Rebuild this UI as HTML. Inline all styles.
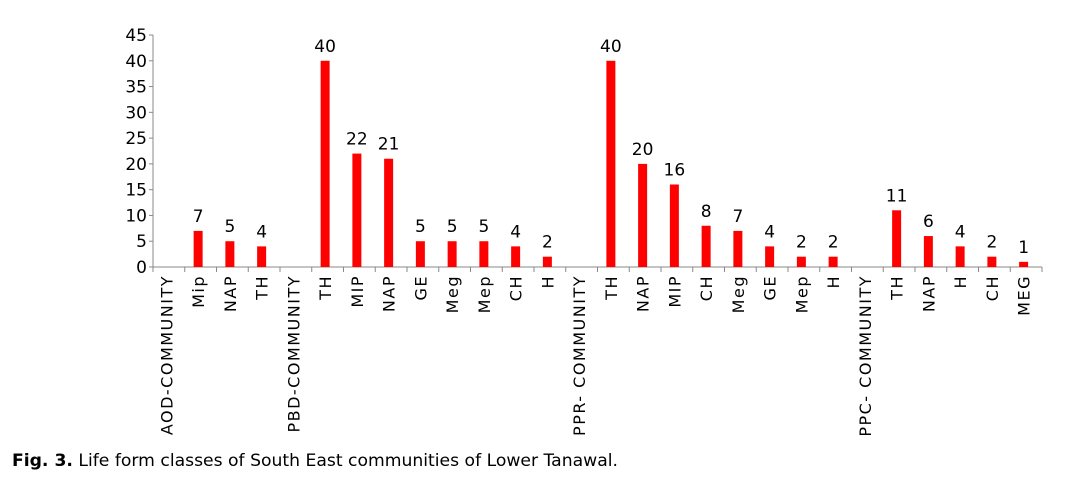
<!DOCTYPE html>
<html><head><meta charset="utf-8"><style>
body{margin:0;background:#fff;width:1065px;height:484px;overflow:hidden;font-family:"Liberation Sans",sans-serif}
#cap{position:absolute;left:12px;top:451px;font-family:"DejaVu Sans","Liberation Sans",sans-serif;font-size:17.2px;color:#000}
</style></head><body>
<svg id="chart" width="1065" height="445" style="position:absolute;left:0;top:0"></svg>
<div id="cap"><b>Fig. 3.</b> Life form classes of South East communities of Lower Tanawal.</div>
<script>
const categories=["AOD-COMMUNITY","Mip","NAP","TH","PBD-COMMUNITY","TH","MIP","NAP","GE","Meg","Mep","CH","H","PPR- COMMUNITY","TH","NAP","MIP","CH","Meg","GE","Mep","H","PPC- COMMUNITY","TH","NAP","H","CH","MEG"];
const values=[0,7,5,4,0,40,22,21,5,5,5,4,2,0,40,20,16,8,7,4,2,2,0,11,6,4,2,1];
const yTicks=[0,5,10,15,20,25,30,35,40,45];
const NS="http://www.w3.org/2000/svg";
const svg=document.getElementById('chart');
const X0=153,X1=1042,Y0=267,YT=35,YMAX=45;
const step=(X1-X0)/categories.length;
const y=v=>Y0-(v/YMAX)*(Y0-YT);
const xc=i=>X0+step*(i+0.5)-2.5;
function mk(t,a){const e=document.createElementNS(NS,t);for(const k in a)e.setAttribute(k,a[k]);svg.appendChild(e);return e;}
let ax=mk('line',{x1:X0,y1:YT,x2:X0,y2:Y0,stroke:'#888'});


let bx=mk('line',{x1:X0,y1:Y0,x2:X1,y2:Y0,stroke:'#888'});


yTicks.forEach(v=>{
  mk('line',{x1:X0-4,y1:y(v),x2:X0,y2:y(v),stroke:'#888'});
  const t=mk('text',{x:X0-6,y:y(v)+6,'text-anchor':'end','font-size':17,fill:'#000','font-family':'DejaVu Sans, sans-serif'});
  t.textContent=v;
  
  
});
for(let i=0;i<=categories.length;i++){
  mk('line',{x1:X0+step*i,y1:Y0,x2:X0+step*i,y2:Y0+5,stroke:'#888'});
}
categories.forEach((c,i)=>{
  const t=mk('text',{transform:`translate(${xc(i)+6},275) rotate(-90)`,'text-anchor':'end','font-size':16,'letter-spacing':1.5,fill:'#000','font-family':'DejaVu Sans, sans-serif'});
  t.textContent=c;
  
  
  const v=values[i];
  if(v>0){
    const r=mk('rect',{x:xc(i)-4.5,y:y(v),width:9,height:Y0-y(v),fill:'#ff0000'});
    
    
    const l=mk('text',{x:xc(i),y:y(v)-9,'text-anchor':'middle','font-size':17,fill:'#000','font-family':'DejaVu Sans, sans-serif'});
    l.textContent=v;
    
    
  }
});
</script>
</body></html>
